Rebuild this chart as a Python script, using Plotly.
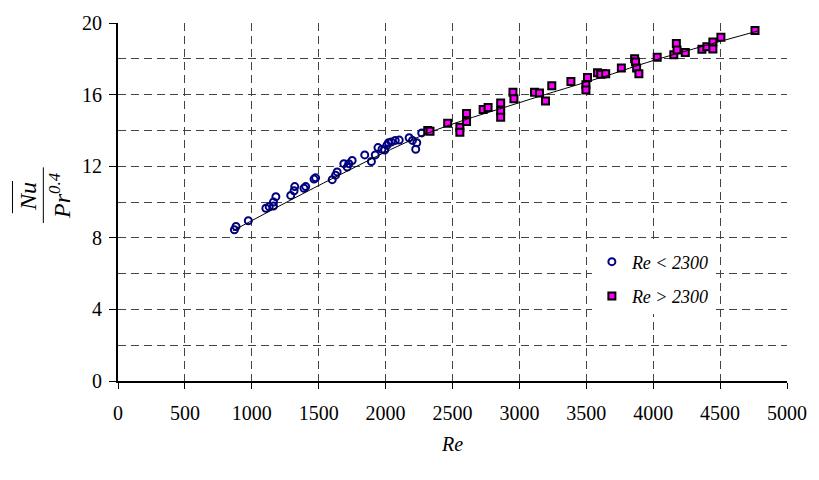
import plotly.graph_objects as go

# Laminar-ish points (Re < 2300)
re_lam = [870, 882, 974, 1105, 1130, 1162, 1162, 1180, 1291, 1316, 1321, 1390, 1403,
          1465, 1477, 1601, 1626, 1638, 1688, 1713, 1725, 1750, 1844, 1894, 1923,
          1943, 1973, 1993, 2010, 2022, 2042, 2072, 2102, 2176, 2201, 2225, 2233, 2270]
nu_lam = [8.45, 8.63, 8.95, 9.65, 9.74, 9.77, 10.0, 10.3, 10.37, 10.63, 10.86, 10.77, 10.86,
          11.28, 11.35, 11.25, 11.5, 11.68, 12.14, 11.95, 12.14, 12.32, 12.63, 12.26, 12.63,
          13.04, 12.95, 12.9, 13.17, 13.31, 13.35, 13.44, 13.46, 13.59, 13.44, 12.95, 13.31, 13.86]

# Turbulent points (Re > 2300)
re_turb = [2315, 2332, 2464, 2555, 2555, 2605, 2605, 2729, 2766, 2860, 2860, 2860,
           2952, 2959, 3113, 3150, 3195, 3242, 3385, 3497, 3497, 3509, 3584, 3621,
           3608, 3645, 3762, 3861, 3868, 3876, 3893, 4030, 4154, 4173, 4178, 4240,
           4364, 4401, 4446, 4446, 4506, 4761]
nu_turb = [13.99, 13.95, 14.4, 14.17, 13.9, 14.95, 14.5, 15.17, 15.28, 15.53, 15.1, 14.73,
           16.13, 15.77, 16.13, 16.09, 15.64, 16.5, 16.73, 16.55, 16.26, 16.95, 17.22, 17.17,
           17.13, 17.17, 17.49, 18.0, 17.82, 17.49, 17.17, 18.08, 18.22, 18.86, 18.49, 18.35,
           18.53, 18.67, 18.94, 18.55, 19.21, 19.58]

# Fitted curve
fit_re = [860, 1600, 2300, 3000, 3650, 4000, 4780]
fit_val = [8.4, 11.3, 13.8, 15.55, 17.05, 17.9, 19.55]

x_ticks = list(range(0, 5001, 500))
y_ticks = [0, 4, 8, 12, 16, 20]

FONT = "Liberation Serif"

fig = go.Figure()
fig.add_trace(go.Scatter(
    x=re_lam, y=nu_lam, mode="markers", name="<i>Re &lt; 2300</i>",
    legendgroup="a",
    marker=dict(symbol="circle-open", size=7, color="#000080", line=dict(width=2, color="#000080"))))
fig.add_trace(go.Scatter(
    x=re_turb, y=nu_turb, mode="markers", name="<i>Re &gt; 2300</i>",
    legendgroup="b",
    marker=dict(symbol="square", size=7, color="#FF00FF", line=dict(width=2, color="black"))))
fig.add_trace(go.Scatter(
    x=fit_re, y=fit_val, mode="lines", line=dict(color="black", width=1, shape="spline"),
    showlegend=False, hoverinfo="skip"))

L, R, T, B = 118, 29, 14, 99
W, H = 819, 480
pw, ph = W - L - R, H - T - B

def px(xp):
    return (xp - L) / pw

def py(yp):
    return (H - B - yp) / ph

grid_col = "#444444"
fig.update_layout(
    width=W, height=H,
    margin=dict(l=L, r=R, t=T, b=B),
    plot_bgcolor="white", paper_bgcolor="white",
    font=dict(family=FONT, size=20, color="black"),
    showlegend=True,
    legend=dict(x=px(594), y=py(240), xanchor="left", yanchor="top",
                bgcolor="white", font=dict(size=18, family=FONT),
                tracegroupgap=8, itemwidth=30),
    xaxis=dict(range=[0, 5000], tickvals=x_ticks, ticks="outside", ticklen=6,
               tickcolor="black", showline=True, linecolor="black", linewidth=2,
               showgrid=True, gridcolor=grid_col, griddash="8px,5px", gridwidth=1,
               zeroline=False, ticklabelstandoff=7,
               title=dict(text="<i>Re</i>", font=dict(size=20, family=FONT), standoff=14)),
    yaxis=dict(range=[0, 20], tickvals=y_ticks, ticks="outside", ticklen=7,
               tickcolor="black", showline=True, linecolor="black", linewidth=2,
               showgrid=True, gridcolor=grid_col, griddash="8px,5px", gridwidth=1,
               zeroline=False, ticklabelstandoff=3,
               minor=dict(tickvals=[2, 6, 10, 14, 18], showgrid=True, gridcolor=grid_col,
                          griddash="8px,5px", gridwidth=1, ticks="")),
)

# y-axis title: overline(Nu) / Pr^0.4
fig.add_annotation(x=px(27), y=py(192), xref="paper", yref="paper",
                   text="<i>Nu</i>", textangle=-90, showarrow=False,
                   font=dict(size=24, family=FONT), xanchor="center", yanchor="middle")
fig.add_annotation(x=px(59), y=py(191), xref="paper", yref="paper",
                   text="<i>Pr</i><sup><i>0.4</i></sup>", textangle=-90, showarrow=False,
                   font=dict(size=24, family=FONT), xanchor="center", yanchor="middle")
fig.add_shape(type="line", xref="paper", yref="paper",
              x0=px(12), x1=px(12), y0=py(176), y1=py(209), line=dict(color="black", width=1))
fig.add_shape(type="line", xref="paper", yref="paper",
              x0=px(43), x1=px(43), y0=py(162), y1=py(219), line=dict(color="black", width=1))

fig.write_html("out.html")
